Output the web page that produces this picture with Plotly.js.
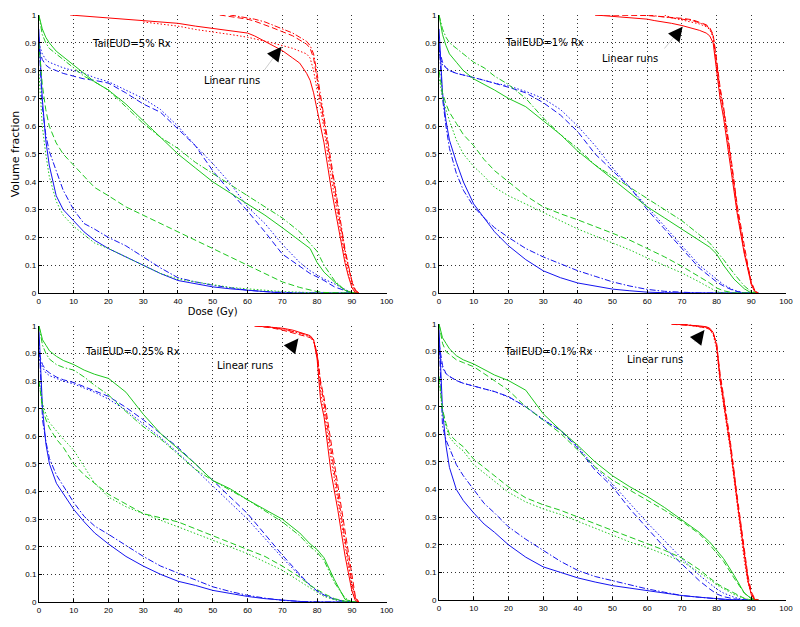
<!DOCTYPE html>
<html><head><meta charset="utf-8">
<script src="https://cdn.plot.ly/plotly-3.0.1.min.js"></script>
<style>html,body{margin:0;padding:0;background:#fff}#chart{width:800px;height:627px}</style>
</head><body><div id="chart"></div>
<script>
const N = null;
// Dose grids (Gy)
const DOSE = [0,1,2,3,5,7,10,13,16,20,25,30,35,40,45,50,55,60,65,70,75,78,80,82,85,88,90,92];
const DOSE_PTV = [0,9,20,30,40,45,50,52,55,60,62,65,67,70,73,75,77,78,79,80,81,82,84,86,88,89,90,91,92];

// Panel titles
const panelLabels = ["TailEUD=5% Rx","TailEUD=1% Rx","TailEUD=0.25% Rx","TailEUD=0.1% Rx"];
const arrowText = "Linear runs";

// ---- TailEUD = 5% Rx ----
const ptv5_solid   = [N,1.0,0.99,0.98,0.97,0.96,0.952,0.948,0.944,0.935,0.925,0.905,0.893,0.872,0.845,0.827,0.79,0.765,0.72,0.66,0.6,0.54,0.38,0.24,0.11,0.06,0.02,0,0];
const ptv5_dot     = [N,N,N,0.975,0.96,0.948,0.94,0.935,0.93,0.92,0.915,0.905,0.9,0.89,0.88,0.87,0.86,0.845,0.8,0.73,0.66,0.59,0.42,0.27,0.13,0.07,0.03,0.005,0];
const ptv5_dash    = [N,N,N,N,N,N,N,1.0,0.995,0.985,0.978,0.965,0.955,0.94,0.925,0.91,0.895,0.88,0.845,0.77,0.69,0.62,0.45,0.3,0.15,0.09,0.04,0.01,0];
const ptv5_dashdot = [N,N,N,N,N,N,N,N,1.0,0.99,0.985,0.975,0.965,0.952,0.935,0.92,0.905,0.89,0.86,0.79,0.71,0.64,0.47,0.32,0.16,0.1,0.045,0.01,0];
const gU5_solid    = [1.0,0.95,0.92,0.9,0.87,0.85,0.82,0.79,0.76,0.73,0.68,0.62,0.56,0.5,0.45,0.4,0.36,0.32,0.28,0.235,0.19,0.16,0.11,0.075,0.04,0.01,0.002,0];
const gU5_dashdot  = [1.0,0.93,0.9,0.88,0.86,0.84,0.81,0.78,0.76,0.73,0.67,0.61,0.56,0.52,0.47,0.43,0.39,0.35,0.31,0.27,0.22,0.18,0.15,0.1,0.045,0.01,0,0];
const gL5_dash     = [0.9,0.75,0.66,0.6,0.54,0.5,0.46,0.42,0.38,0.35,0.31,0.28,0.25,0.22,0.19,0.16,0.13,0.1,0.07,0.04,0.02,0.01,0.005,0.002,0,0,0,0];
const gL5_dot      = [0.8,0.6,0.5,0.42,0.33,0.28,0.24,0.21,0.18,0.16,0.13,0.1,0.07,0.05,0.04,0.03,0.02,0.015,0.01,0.005,0.003,0,0,0,0,0,0,0];
const bU5_dash     = [0.88,0.84,0.82,0.81,0.8,0.79,0.78,0.77,0.765,0.755,0.72,0.68,0.65,0.59,0.53,0.44,0.365,0.295,0.22,0.14,0.095,0.07,0.058,0.045,0.022,0.008,0,0];
const bU5_dot      = [0.9,0.86,0.84,0.83,0.82,0.81,0.8,0.79,0.775,0.76,0.73,0.7,0.66,0.6,0.53,0.466,0.395,0.31,0.25,0.175,0.11,0.08,0.065,0.05,0.033,0.012,0,0];
const bL5_solid    = [0.95,0.7,0.55,0.46,0.35,0.3,0.26,0.22,0.19,0.16,0.13,0.1,0.07,0.045,0.033,0.022,0.015,0.01,0.003,0,0,0,0,0,0,0,0,0];
const bL5_dashdot  = [0.92,0.67,0.57,0.51,0.44,0.37,0.3,0.25,0.23,0.2,0.17,0.13,0.09,0.055,0.04,0.028,0.018,0.01,0.005,0.002,0,0,0,0,0,0,0,0];

// ---- TailEUD = 1% Rx ----
const ptv1_solid   = [N,N,N,N,N,1.0,0.995,0.993,0.99,0.985,0.98,0.975,0.97,0.962,0.952,0.945,0.935,0.925,0.9,0.8,0.7,0.63,0.46,0.28,0.14,0.09,0.03,0.005,0];
const ptv1_dash    = [N,N,N,N,N,1.0,1.0,1.0,1.0,0.998,0.996,0.994,0.992,0.988,0.983,0.975,0.965,0.955,0.93,0.84,0.74,0.67,0.5,0.31,0.16,0.1,0.04,0.01,0];
const ptv1_dashdot = [N,N,N,N,N,N,N,N,N,1.0,0.998,0.993,0.99,0.985,0.98,0.972,0.962,0.952,0.925,0.83,0.73,0.66,0.49,0.3,0.15,0.095,0.035,0.008,0];
const ptv1_dot     = [N,N,N,N,N,N,N,N,N,N,N,1.0,0.99,0.982,0.975,0.968,0.958,0.948,0.92,0.82,0.72,0.65,0.48,0.29,0.145,0.09,0.032,0.006,0];
const gU1_solid    = [1.0,0.93,0.89,0.86,0.83,0.8,0.77,0.75,0.73,0.7,0.67,0.62,0.57,0.51,0.46,0.41,0.36,0.31,0.27,0.23,0.19,0.165,0.14,0.1,0.05,0.015,0,0];
const gU1_dashdot  = [1.0,0.95,0.92,0.9,0.88,0.86,0.83,0.81,0.78,0.75,0.7,0.63,0.57,0.52,0.46,0.42,0.38,0.34,0.3,0.26,0.21,0.18,0.15,0.12,0.07,0.025,0.005,0];
const gL1_dash     = [0.8,0.72,0.68,0.65,0.61,0.57,0.53,0.48,0.44,0.4,0.35,0.31,0.285,0.263,0.24,0.215,0.19,0.16,0.13,0.096,0.06,0.036,0.018,0.008,0,0,0,0];
const gL1_dot      = [0.78,0.7,0.66,0.62,0.55,0.5,0.455,0.42,0.38,0.35,0.32,0.29,0.26,0.23,0.205,0.18,0.155,0.126,0.1,0.072,0.04,0.018,0.005,0,0,0,0,0];
const bU1_dash     = [0.88,0.83,0.81,0.8,0.79,0.785,0.775,0.765,0.755,0.74,0.72,0.685,0.64,0.58,0.5,0.44,0.38,0.3,0.23,0.16,0.09,0.06,0.04,0.025,0.008,0,0,0];
const bU1_dot      = [0.86,0.82,0.81,0.8,0.79,0.785,0.775,0.765,0.755,0.745,0.725,0.7,0.66,0.6,0.53,0.45,0.38,0.31,0.24,0.17,0.1,0.07,0.05,0.03,0.01,0,0,0];
const bL1_solid    = [0.95,0.72,0.62,0.55,0.47,0.4,0.32,0.27,0.22,0.17,0.12,0.08,0.055,0.036,0.025,0.014,0.008,0.003,0.001,0,0,0,0,0,0,0,0,0];
const bL1_dashdot  = [0.9,0.7,0.6,0.52,0.43,0.37,0.31,0.27,0.235,0.2,0.16,0.13,0.105,0.08,0.06,0.04,0.025,0.013,0.006,0.002,0,0,0,0,0,0,0,0];

// ---- TailEUD = 0.25% Rx ----
const ptv025_solid   = [N,N,N,N,N,N,N,N,N,N,1.0,0.998,0.996,0.992,0.985,0.978,0.97,0.965,0.95,0.88,0.73,0.67,0.47,0.33,0.17,0.1,0.04,0.005,0];
const ptv025_dash    = [N,N,N,N,N,N,N,N,N,N,1.0,0.997,0.993,0.985,0.975,0.968,0.962,0.958,0.945,0.9,0.8,0.74,0.58,0.42,0.25,0.17,0.085,0.02,0];
const ptv025_dashdot = [N,N,N,N,N,N,N,N,N,N,N,1.0,0.995,0.99,0.982,0.975,0.968,0.962,0.95,0.9,0.79,0.72,0.55,0.39,0.22,0.14,0.07,0.015,0];
const ptv025_dot     = [N,N,N,N,N,N,N,N,N,N,N,N,0.995,0.99,0.98,0.972,0.965,0.96,0.945,0.89,0.76,0.69,0.52,0.36,0.2,0.12,0.055,0.01,0];
const gU025_solid    = [1.0,0.95,0.93,0.91,0.89,0.875,0.86,0.84,0.825,0.81,0.76,0.68,0.61,0.555,0.5,0.44,0.41,0.37,0.335,0.3,0.25,0.21,0.19,0.16,0.08,0.01,0,0];
const gU025_dashdot  = [1.0,0.93,0.9,0.88,0.86,0.85,0.84,0.815,0.785,0.75,0.69,0.635,0.59,0.535,0.48,0.44,0.405,0.37,0.33,0.29,0.24,0.2,0.18,0.15,0.07,0.015,0,0];
const gL025_dash     = [0.8,0.7,0.66,0.63,0.59,0.56,0.5,0.46,0.43,0.39,0.355,0.32,0.305,0.29,0.265,0.24,0.215,0.19,0.165,0.13,0.09,0.06,0.045,0.03,0.012,0.003,0,0];
const gL025_dot      = [0.8,0.72,0.68,0.65,0.62,0.59,0.55,0.49,0.43,0.38,0.345,0.32,0.295,0.272,0.248,0.224,0.2,0.175,0.145,0.115,0.075,0.05,0.035,0.02,0.008,0,0,0];
const bU025_dash     = [0.9,0.86,0.84,0.83,0.815,0.805,0.795,0.78,0.765,0.745,0.705,0.66,0.61,0.56,0.5,0.44,0.38,0.32,0.245,0.17,0.1,0.06,0.04,0.025,0.01,0.002,0,0];
const bU025_dot      = [0.88,0.85,0.83,0.82,0.81,0.8,0.79,0.775,0.76,0.735,0.695,0.645,0.595,0.54,0.48,0.42,0.36,0.3,0.23,0.16,0.095,0.06,0.04,0.025,0.01,0.002,0,0];
const bL025_solid    = [0.98,0.7,0.57,0.5,0.43,0.39,0.335,0.29,0.25,0.21,0.165,0.13,0.1,0.075,0.06,0.042,0.03,0.02,0.012,0.006,0.002,0,0,0,0,0,0,0];
const bL025_dashdot  = [0.95,0.66,0.58,0.52,0.46,0.42,0.36,0.31,0.275,0.245,0.205,0.165,0.13,0.105,0.08,0.055,0.038,0.024,0.014,0.006,0.002,0,0,0,0,0,0,0];

// ---- TailEUD = 0.1% Rx ----
const ptv01_solid   = [N,N,N,N,N,N,N,N,N,N,N,N,1.0,0.998,0.995,0.993,0.99,0.985,0.97,0.92,0.8,0.72,0.55,0.35,0.15,0.07,0.02,0,0];
const ptv01_dash    = [N,N,N,N,N,N,N,N,N,N,N,N,0.999,0.997,0.994,0.99,0.986,0.98,0.965,0.93,0.82,0.74,0.57,0.37,0.17,0.09,0.03,0.005,0];
const ptv01_dashdot = [N,N,N,N,N,N,N,N,N,N,N,N,N,1.0,0.996,0.992,0.988,0.983,0.968,0.925,0.81,0.73,0.56,0.36,0.16,0.08,0.025,0,0];
const ptv01_dot     = [N,N,N,N,N,N,N,N,N,N,N,N,N,0.998,0.994,0.99,0.985,0.98,0.962,0.91,0.79,0.71,0.54,0.34,0.14,0.065,0.02,0,0];
const gU01_solid    = [1.0,0.95,0.93,0.91,0.885,0.87,0.855,0.835,0.815,0.795,0.76,0.675,0.615,0.56,0.5,0.45,0.41,0.375,0.335,0.29,0.245,0.21,0.18,0.15,0.09,0.025,0.005,0];
const gU01_dash     = [1.0,0.93,0.9,0.89,0.87,0.86,0.845,0.82,0.795,0.76,0.7,0.652,0.604,0.543,0.482,0.434,0.398,0.36,0.325,0.285,0.24,0.2,0.17,0.14,0.08,0.025,0.005,0];
const gL01_dash     = [0.81,0.69,0.64,0.6,0.575,0.555,0.51,0.48,0.45,0.41,0.37,0.345,0.325,0.3,0.275,0.252,0.228,0.204,0.18,0.152,0.11,0.08,0.06,0.045,0.025,0.006,0,0];
const gL01_dot      = [0.8,0.68,0.63,0.59,0.56,0.54,0.49,0.46,0.43,0.39,0.355,0.33,0.31,0.285,0.26,0.235,0.21,0.19,0.165,0.14,0.1,0.075,0.055,0.04,0.02,0.005,0,0];
const bU01_dash     = [0.93,0.85,0.82,0.81,0.795,0.785,0.775,0.765,0.755,0.737,0.7,0.652,0.615,0.55,0.47,0.41,0.33,0.26,0.19,0.13,0.07,0.04,0.022,0.012,0.004,0,0,0];
const bU01_dot      = [0.91,0.84,0.82,0.81,0.795,0.785,0.775,0.765,0.755,0.735,0.7,0.655,0.615,0.555,0.48,0.42,0.35,0.28,0.215,0.15,0.09,0.06,0.04,0.025,0.01,0,0,0];
const bL01_solid    = [0.98,0.69,0.56,0.48,0.4,0.36,0.315,0.275,0.245,0.2,0.155,0.12,0.1,0.08,0.065,0.052,0.043,0.034,0.025,0.016,0.01,0.007,0.005,0.002,0,0,0,0];
const bL01_dashdot  = [0.95,0.63,0.58,0.55,0.49,0.45,0.4,0.35,0.315,0.265,0.22,0.18,0.14,0.107,0.085,0.07,0.055,0.04,0.028,0.016,0.01,0.006,0.004,0.002,0,0,0,0];

// Annotation anchor values (dose, volume)
const labelPos  = [[26.6,0.896],[30.5,0.9],[26.8,0.906],[31.4,0.9]];
const runsPos   = [[55.6,0.766],[54.9,0.844],[59.3,0.855],[62.1,0.873]];
const arrowTip  = [[69.8,0.886],[70.2,0.958],[74.6,0.955],[76.5,0.978]];
const arrowTail = [[64.5,0.796],[64.6,0.874],[71.1,0.909],[73.3,0.93]];

const RED = 'rgb(255,0,0)', GREEN = 'rgb(30,200,30)', BLUE = 'rgb(20,20,240)';
const DASH = {solid:'solid', dash:'6px,3px', dashdot:'6px,2px,1.5px,2px', dot:'1.5px,2px'};

const panels = [
  {ptv:[[ptv5_solid,'solid'],[ptv5_dot,'dot'],[ptv5_dash,'dash'],[ptv5_dashdot,'dashdot']],
   g:[[gU5_solid,'solid'],[gU5_dashdot,'dashdot'],[gL5_dash,'dash'],[gL5_dot,'dot']],
   b:[[bU5_dash,'dash'],[bU5_dot,'dot'],[bL5_solid,'solid'],[bL5_dashdot,'dashdot']]},
  {ptv:[[ptv1_solid,'solid'],[ptv1_dash,'dash'],[ptv1_dashdot,'dashdot'],[ptv1_dot,'dot']],
   g:[[gU1_solid,'solid'],[gU1_dashdot,'dashdot'],[gL1_dash,'dash'],[gL1_dot,'dot']],
   b:[[bU1_dash,'dash'],[bU1_dot,'dot'],[bL1_solid,'solid'],[bL1_dashdot,'dashdot']]},
  {ptv:[[ptv025_solid,'solid'],[ptv025_dash,'dash'],[ptv025_dashdot,'dashdot'],[ptv025_dot,'dot']],
   g:[[gU025_solid,'solid'],[gU025_dashdot,'dashdot'],[gL025_dash,'dash'],[gL025_dot,'dot']],
   b:[[bU025_dash,'dash'],[bU025_dot,'dot'],[bL025_solid,'solid'],[bL025_dashdot,'dashdot']]},
  {ptv:[[ptv01_solid,'solid'],[ptv01_dash,'dash'],[ptv01_dashdot,'dashdot'],[ptv01_dot,'dot']],
   g:[[gU01_solid,'solid'],[gU01_dash,'dash'],[gL01_dash,'dash'],[gL01_dot,'dot']],
   b:[[bU01_dash,'dash'],[bU01_dot,'dot'],[bL01_solid,'solid'],[bL01_dashdot,'dashdot']]}
];

const traces = [];
panels.forEach((p, i) => {
  const xa = 'x' + (i ? i + 1 : ''), ya = 'y' + (i ? i + 1 : '');
  const add = (arr, xs, color) => arr.forEach(([ys, d]) => traces.push({
    type:'scatter', mode:'lines', x: xs, y: ys, xaxis: xa, yaxis: ya,
    line:{color: color, width: 1, dash: DASH[d]}, hoverinfo:'skip', connectgaps:false
  }));
  add(p.b, DOSE, BLUE);
  add(p.g, DOSE, GREEN);
  add(p.ptv, DOSE_PTV, RED);
});

const tickFont = {family:'Liberation Sans, Arial, sans-serif', size:8, color:'#000'};
const GRID = {showgrid:true, gridcolor:'#333', griddash:'1px,3px', gridwidth:1};
function xax(dom, anchor, title) {
  const a = Object.assign({domain: dom, anchor: anchor, range:[0,100], tick0:0, dtick:10,
    showline:true, linecolor:'#000', linewidth:1,
    ticks:'inside', ticklen:3, tickcolor:'#000', tickfont: tickFont, zeroline:false, fixedrange:true}, GRID);
  if (title) a.title = {text: title, font:{family:'DejaVu Sans, sans-serif', size:10, color:'#000'}, standoff: 0};
  return a;
}
function yax(dom, anchor, title) {
  const a = Object.assign({domain: dom, anchor: anchor, range:[0,1], tick0:0, dtick:0.1,
    showline:true, linecolor:'#000', linewidth:1,
    ticks:'inside', ticklen:3, tickcolor:'#000', tickfont: tickFont, zeroline:false, fixedrange:true}, GRID);
  if (title) a.title = {text: title, font:{family:'DejaVu Sans, sans-serif', size:11, color:'#000'}, standoff: 3};
  return a;
}

const annotations = [];
const annFont = {family:'DejaVu Sans, sans-serif', size:10, color:'#000'};
for (let i = 0; i < 4; i++) {
  const xr = 'x' + (i ? i + 1 : ''), yr = 'y' + (i ? i + 1 : '');
  annotations.push({xref:xr, yref:yr, x:labelPos[i][0], y:labelPos[i][1], text:panelLabels[i], showarrow:false, font:annFont});
  annotations.push({xref:xr, yref:yr, x:runsPos[i][0], y:runsPos[i][1], text:arrowText, showarrow:false, font:annFont});
  annotations.push({xref:xr, yref:yr, x:arrowTip[i][0], y:arrowTip[i][1], axref:xr, ayref:yr,
    ax:arrowTail[i][0], ay:arrowTail[i][1], text:'', showarrow:true, arrowhead:0, arrowwidth:0.8, arrowcolor:'#c0c0c0'});
  annotations.push({xref:xr, yref:yr, x:arrowTip[i][0], y:arrowTip[i][1],
    ax:-7, ay:9, text:'', showarrow:true, arrowhead:2, arrowsize:1.6, arrowwidth:1.8, arrowcolor:'#000'});
}

const layout = {
  width:800, height:627, margin:{l:0,r:0,t:0,b:0}, paper_bgcolor:'#fff', plot_bgcolor:'#fff',
  showlegend:false,
  xaxis:  xax([0.0485,0.4833],'y','Dose (Gy)'),
  yaxis:  yax([0.5327,0.9761],'x','Volume fraction'),
  xaxis2: xax([0.5488,0.9825],'y2'),
  yaxis2: yax([0.5327,0.9761],'x2'),
  xaxis3: xax([0.0488,0.4833],'y3'),
  yaxis3: yax([0.0399,0.4801],'x3'),
  xaxis4: xax([0.5488,0.9825],'y4'),
  yaxis4: yax([0.0431,0.4833],'x4'),
  annotations: annotations
};
Plotly.newPlot('chart', traces, layout, {staticPlot:true, displayModeBar:false});
</script></body></html>
